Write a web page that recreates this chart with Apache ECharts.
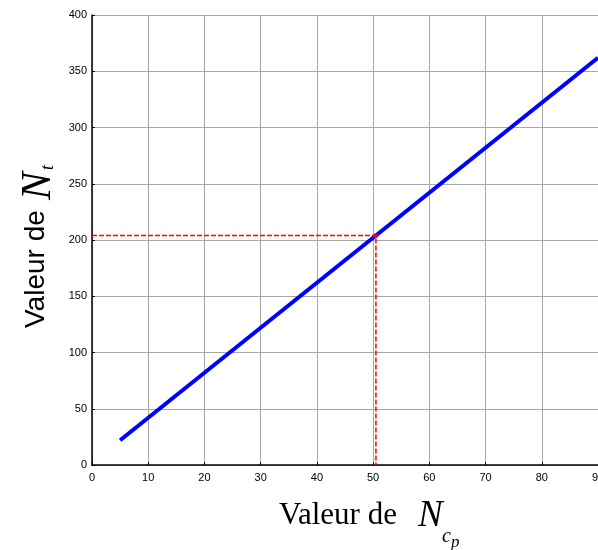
<!DOCTYPE html>
<html>
<head>
<meta charset="utf-8">
<script src="https://cdn.jsdelivr.net/npm/echarts@6/dist/echarts.min.js"></script>
<style>
  html, body { margin: 0; padding: 0; background: #fff; }
  #main { width: 598px; height: 550px; }
</style>
</head>
<body>
<div id="main"></div>
<script>
// valeurs
var ncp = [5, 10, 15, 20, 25, 30, 35, 40, 45, 50, 55, 60, 65, 70, 75, 80, 85, 90];
var nt = [22, 42, 62, 82, 102, 122, 142, 162, 182, 202, 222, 242, 262, 282, 302, 322, 342, 362];
var pointX = 50.5;
var pointY = 204;

var tickFont = 'Liberation Sans Narrow, Liberation Sans, Arial, sans-serif';

var chart = echarts.init(document.getElementById('main'));
chart.setOption({
  animation: false,
  grid: { left: 92, top: 15, right: 0, bottom: 85, containLabel: false, outerBoundsMode: 'none' },
  xAxis: {
    type: 'value', min: 0, max: 90, interval: 10,
    axisLine: { lineStyle: { color: '#000', width: 1.5 } },
    axisTick: { inside: true, length: 3, lineStyle: { color: '#000' } },
    axisLabel: { color: '#000', fontSize: 11, fontFamily: tickFont, margin: 7 },
    splitLine: { show: true, lineStyle: { color: '#a8a8a8', width: 1 } }
  },
  yAxis: {
    type: 'value', min: 0, max: 400, interval: 50,
    axisLine: { show: true, lineStyle: { color: '#000', width: 1.5 } },
    axisTick: { show: true, inside: true, length: 3, lineStyle: { color: '#000' } },
    axisLabel: { color: '#000', fontSize: 11, fontFamily: tickFont, margin: 5 },
    splitLine: { show: true, lineStyle: { color: '#a8a8a8', width: 1 } }
  },
  series: [
    {
      type: 'line',
      data: ncp.map(function (x, i) { return [x, nt[i]]; }),
      showSymbol: false,
      lineStyle: { color: '#0000ff', width: 4 },
      z: 3
    },
    {
      type: 'line',
      data: [[0, pointY], [pointX, pointY], [pointX, 0]],
      showSymbol: false,
      lineStyle: { color: '#ff0000', width: 1.5, type: [5, 2] },
      z: 4
    },
    {
      type: 'scatter',
      data: [[pointX, pointY]],
      symbolSize: 5,
      itemStyle: { color: '#ff0000' },
      z: 5
    }
  ],
  graphic: [
    {
      type: 'group',
      x: 36, y: 250, rotation: Math.PI / 2,
      children: [
        { type: 'text', x: -78, y: 0, style: { text: 'Valeur de', font: '28px Liberation Sans, Arial, sans-serif', fill: '#000', textVerticalAlign: 'middle' } },
        { type: 'text', x: 50, y: 3, style: { text: 'N', font: 'italic 42px Liberation Serif, Times New Roman, serif', fill: '#000', textVerticalAlign: 'middle' } },
        { type: 'text', x: 80, y: 12, style: { text: 't', font: 'italic 18px Liberation Serif, Times New Roman, serif', fill: '#000', textVerticalAlign: 'middle' } }
      ]
    },
    {
      type: 'group',
      x: 279, y: 523,
      children: [
        { type: 'text', x: 0, y: 8, style: { text: 'Valeur de', font: '31px Liberation Serif, Times New Roman, serif', fill: '#000', textVerticalAlign: 'bottom' } },
        { type: 'text', x: 139, y: 12, style: { text: 'N', font: 'italic 37px Liberation Serif, Times New Roman, serif', fill: '#000', textVerticalAlign: 'bottom' } },
        { type: 'text', x: 163, y: 24, style: { text: 'c', font: 'italic 20px Liberation Serif, Times New Roman, serif', fill: '#000', textVerticalAlign: 'bottom' } },
        { type: 'text', x: 172, y: 28, style: { text: 'p', font: 'italic 17px Liberation Serif, Times New Roman, serif', fill: '#000', textVerticalAlign: 'bottom' } }
      ]
    }
  ]
});
</script>
</body>
</html>
